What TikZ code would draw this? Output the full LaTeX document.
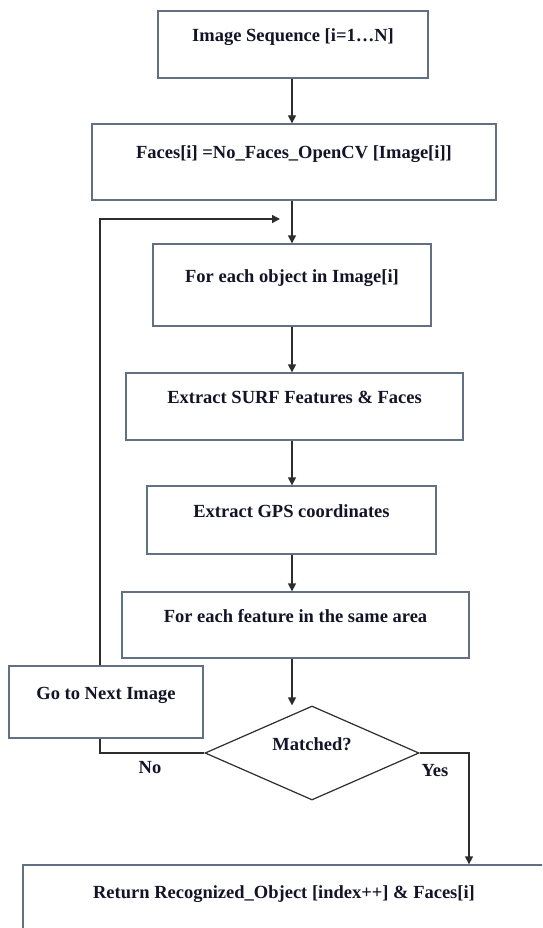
\documentclass[tikz,border=0pt]{standalone}
\usepackage{fontspec}
\setmainfont{Liberation Serif}
\usetikzlibrary{arrows.meta,positioning,shapes.geometric}
\definecolor{BoxEdge}{RGB}{98,112,130}
\definecolor{LineInk}{RGB}{45,45,45}
\definecolor{TextInk}{RGB}{20,20,40}

\begin{document}
\begin{tikzpicture}[x=1pt,y=-1pt,
  flowbox/.style={draw=BoxEdge,line width=1.3pt,fill=white,text=TextInk,
    text height=13pt,text depth=19pt,font=\bfseries\fontsize{18.5}{22}\selectfont},
  decision/.style={diamond,draw=LineInk,line width=1.2pt,fill=white,text=TextInk,inner sep=0pt,aspect=2.28,
    text height=13pt,text depth=19pt,font=\bfseries\fontsize{18.5}{22}\selectfont},
  tag/.style={text=TextInk,font=\bfseries\fontsize{18.5}{22}\selectfont},
  flow/.style={draw=LineInk,line width=1.3pt},
  flowarrow/.style={flow,-{Triangle[length=8pt,width=8pt]}}]
  \useasboundingbox (0,0) rectangle (542,928);
  \clip (0,0) rectangle (542,928);
  \fill[white] (0,0) rectangle (542,928);

  \coordinate (col) at (292,0);
  \coordinate (loopx) at (100,0);
  \coordinate (yesx) at (469,0);
  \coordinate (loopin) at (280,219);

  \node[flowbox,minimum width=270pt,minimum height=67pt] (seq) at (293,44.5) {Image Sequence [i=1…N]};
  \node[flowbox,minimum width=404pt,minimum height=76pt] (faces) at (294,162) {Faces[i] =No\_Faces\_OpenCV [Image[i]]};
  \node[flowbox,minimum width=278pt,minimum height=82pt] (object) at (292,285) {For each object in Image[i]};
  \node[flowbox,minimum width=337pt,minimum height=67pt] (surf) at (294.5,406.5) {Extract SURF Features \& Faces};
  \node[flowbox,minimum width=289pt,minimum height=68pt] (gps) at (291.5,520) {Extract GPS coordinates};
  \node[flowbox,minimum width=347pt,minimum height=66pt] (feature) at (295.5,625) {For each feature in the same area};
  \node[flowbox,minimum width=194pt,minimum height=72pt] (next) at (106,702) {Go to Next Image};
  \node[decision,minimum width=214pt,minimum height=94pt] (match) at (312,753) {Matched?};
  \node[flowbox,minimum width=522pt,minimum height=100pt,text depth=47pt] (result) at (284,915)
    {Return Recognized\_Object [index++] \& Faces[i]};
  \node[tag] (no) at (150,768) {No};
  \node[tag] (yes) at (435,771) {Yes};

  \draw[flowarrow] (seq.south -| col) -- (faces.north -| col);
  \draw[flowarrow] (faces.south -| col) -- (object.north -| col);
  \draw[flowarrow] (object.south -| col) -- (surf.north -| col);
  \draw[flowarrow] (surf.south -| col) -- (gps.north -| col);
  \draw[flowarrow] (gps.south -| col) -- (feature.north -| col);
  \draw[flowarrow] (feature.south -| col) -- (match.north -| col);
  \draw[flow] (match.west) -| (next.south -| loopx);
  \draw[flowarrow] (next.north -| loopx) |- (loopin);
  \draw[flowarrow] (match.east) -| (result.north -| yesx);
\end{tikzpicture}
\end{document}
